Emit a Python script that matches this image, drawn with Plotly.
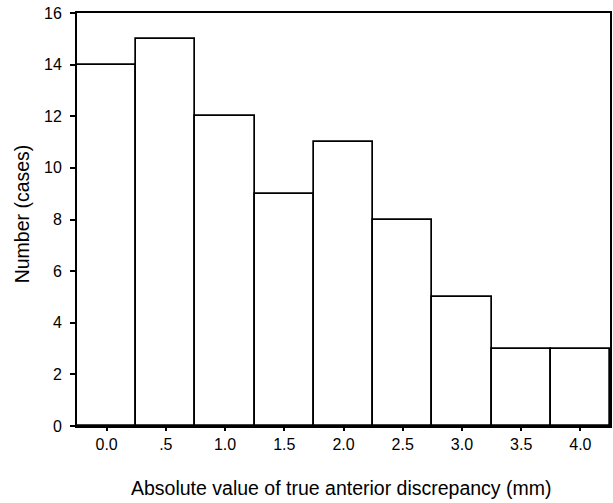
import plotly.graph_objects as go

bin_centers = [0.0, 0.5, 1.0, 1.5, 2.0, 2.5, 3.0, 3.5, 4.0]
counts = [14, 15, 12, 9, 11, 8, 5, 3, 3]
x_tick_labels = ["0.0", ".5", "1.0", "1.5", "2.0", "2.5", "3.0", "3.5", "4.0"]
y_ticks = [0, 2, 4, 6, 8, 10, 12, 14, 16]

FONT = "Arial, Liberation Sans, sans-serif"

fig = go.Figure(go.Bar(
    x=bin_centers, y=counts, width=0.5,
    marker=dict(color="white", line=dict(color="black", width=1.7)),
))

fig.update_layout(
    width=613, height=503,
    margin=dict(l=77, r=1, t=13, b=77),
    paper_bgcolor="white", plot_bgcolor="white",
    showlegend=False, bargap=0,
    font=dict(family=FONT, size=16, color="black"),
    annotations=[
        dict(text="Absolute value of true anterior discrepancy (mm)", xref="paper", yref="paper",
             x=0.496, y=-0.150, xanchor="center", yanchor="middle", showarrow=False,
             font=dict(family=FONT, size=19.5, color="black")),
        dict(text="Number (cases)", xref="paper", yref="paper",
             x=-0.1028, y=0.513, xanchor="center", yanchor="middle", showarrow=False, textangle=-90,
             font=dict(family=FONT, size=19.5, color="black")),
    ],
)
fig.update_xaxes(range=[-0.25, 4.25], tickvals=bin_centers, ticktext=x_tick_labels,
                 ticks="outside", ticklen=3, tickwidth=2, tickcolor="black",
                 showline=True, linecolor="black", linewidth=2, mirror=True,
                 showgrid=False, zeroline=False, tickfont=dict(size=16))
fig.update_yaxes(range=[0, 16], tickvals=y_ticks,
                 ticks="outside", ticklen=5, tickwidth=2, tickcolor="black",
                 ticklabelstandoff=5,
                 showline=True, linecolor="black", linewidth=2, mirror=True,
                 showgrid=False, zeroline=False, tickfont=dict(size=16))

fig.write_html("out.html")
